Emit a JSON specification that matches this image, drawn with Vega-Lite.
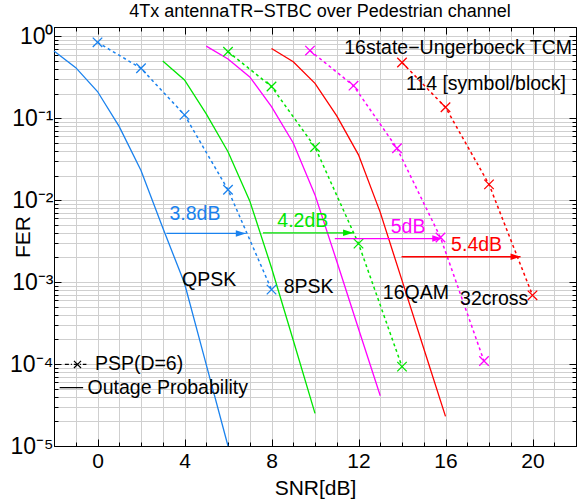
{
  "$schema": "https://vega.github.io/schema/vega-lite/v6.json",
  "width": 522,
  "height": 419,
  "autosize": "none",
  "padding": {"left": 54, "top": 27, "right": 8, "bottom": 58},
  "background": "white",
  "config": {
    "font": "Liberation Sans",
    "view": {"stroke": "black", "strokeWidth": 1},
    "axis": {"labelFont": "Liberation Sans", "titleFont": "Liberation Sans"}
  },
  "title": {"text": "4Tx antennaTR−STBC over Pedestrian channel", "fontSize": 18, "fontWeight": "normal", "font": "Liberation Sans", "color": "black", "offset": 4, "anchor": "middle", "dx": 5},
  "datasets": {
    "curves": [
      {"s": "QPSK", "k": "outage", "snr": -2, "fer": 0.664},
      {"s": "QPSK", "k": "outage", "snr": -1, "fer": 0.415},
      {"s": "QPSK", "k": "outage", "snr": 0, "fer": 0.212},
      {"s": "QPSK", "k": "outage", "snr": 1, "fer": 0.079},
      {"s": "QPSK", "k": "outage", "snr": 2, "fer": 0.023},
      {"s": "QPSK", "k": "outage", "snr": 3, "fer": 0.0046},
      {"s": "QPSK", "k": "outage", "snr": 4, "fer": 0.00097},
      {"s": "QPSK", "k": "outage", "snr": 5, "fer": 0.0000985},
      {"s": "QPSK", "k": "outage", "snr": 6, "fer": 0.00001},
      {"s": "QPSK", "k": "psp", "snr": 0, "fer": 0.845},
      {"s": "QPSK", "k": "psp", "snr": 2, "fer": 0.407},
      {"s": "QPSK", "k": "psp", "snr": 4, "fer": 0.11},
      {"s": "QPSK", "k": "psp", "snr": 6, "fer": 0.0134},
      {"s": "QPSK", "k": "psp", "snr": 8, "fer": 0.00081},
      {"s": "8PSK", "k": "outage", "snr": 3, "fer": 0.5},
      {"s": "8PSK", "k": "outage", "snr": 4, "fer": 0.294},
      {"s": "8PSK", "k": "outage", "snr": 5, "fer": 0.113},
      {"s": "8PSK", "k": "outage", "snr": 6, "fer": 0.039},
      {"s": "8PSK", "k": "outage", "snr": 7, "fer": 0.0098},
      {"s": "8PSK", "k": "outage", "snr": 8, "fer": 0.0015},
      {"s": "8PSK", "k": "outage", "snr": 9, "fer": 0.000195},
      {"s": "8PSK", "k": "outage", "snr": 10, "fer": 0.000025},
      {"s": "8PSK", "k": "psp", "snr": 6, "fer": 0.65},
      {"s": "8PSK", "k": "psp", "snr": 8, "fer": 0.244},
      {"s": "8PSK", "k": "psp", "snr": 10, "fer": 0.0445},
      {"s": "8PSK", "k": "psp", "snr": 12, "fer": 0.00295},
      {"s": "8PSK", "k": "psp", "snr": 14, "fer": 0.000093},
      {"s": "16QAM", "k": "outage", "snr": 5, "fer": 0.76},
      {"s": "16QAM", "k": "outage", "snr": 6, "fer": 0.53},
      {"s": "16QAM", "k": "outage", "snr": 7, "fer": 0.32},
      {"s": "16QAM", "k": "outage", "snr": 8, "fer": 0.139},
      {"s": "16QAM", "k": "outage", "snr": 9, "fer": 0.05},
      {"s": "16QAM", "k": "outage", "snr": 10, "fer": 0.0116},
      {"s": "16QAM", "k": "outage", "snr": 11, "fer": 0.0018},
      {"s": "16QAM", "k": "outage", "snr": 12, "fer": 0.00027},
      {"s": "16QAM", "k": "outage", "snr": 13, "fer": 0.000041},
      {"s": "16QAM", "k": "psp", "snr": 9.77, "fer": 0.67},
      {"s": "16QAM", "k": "psp", "snr": 11.77, "fer": 0.25},
      {"s": "16QAM", "k": "psp", "snr": 13.77, "fer": 0.043},
      {"s": "16QAM", "k": "psp", "snr": 15.77, "fer": 0.0035},
      {"s": "16QAM", "k": "psp", "snr": 17.77, "fer": 0.000109},
      {"s": "32cross", "k": "outage", "snr": 8, "fer": 0.71},
      {"s": "32cross", "k": "outage", "snr": 9, "fer": 0.49},
      {"s": "32cross", "k": "outage", "snr": 10, "fer": 0.267},
      {"s": "32cross", "k": "outage", "snr": 11, "fer": 0.107},
      {"s": "32cross", "k": "outage", "snr": 12, "fer": 0.0358},
      {"s": "32cross", "k": "outage", "snr": 13, "fer": 0.0071},
      {"s": "32cross", "k": "outage", "snr": 14, "fer": 0.00105},
      {"s": "32cross", "k": "outage", "snr": 15, "fer": 0.000155},
      {"s": "32cross", "k": "outage", "snr": 16, "fer": 0.000023},
      {"s": "32cross", "k": "psp", "snr": 14, "fer": 0.48},
      {"s": "32cross", "k": "psp", "snr": 16, "fer": 0.136},
      {"s": "32cross", "k": "psp", "snr": 18, "fer": 0.0156},
      {"s": "32cross", "k": "psp", "snr": 20, "fer": 0.00069}
    ],
    "arrows": [
      {"s": "QPSK", "snr": 3.17, "snr2": 6.82, "fer": 0.00393},
      {"s": "8PSK", "snr": 7.61, "snr2": 11.75, "fer": 0.0040},
      {"s": "16QAM", "snr": 10.91, "snr2": 15.85, "fer": 0.0034},
      {"s": "32cross", "snr": 13.98, "snr2": 19.45, "fer": 0.00204}
    ],
    "labels": [
      {"s": "QPSK", "t": "3.8dB", "snr": 4.48, "fer": 0.0067},
      {"s": "8PSK", "t": "4.2dB", "snr": 9.44, "fer": 0.0055},
      {"s": "16QAM", "t": "5dB", "snr": 14.28, "fer": 0.0047},
      {"s": "32cross", "t": "5.4dB", "snr": 17.43, "fer": 0.00283},
      {"s": "black", "t": "QPSK", "snr": 5.13, "fer": 0.00106},
      {"s": "black", "t": "8PSK", "snr": 9.71, "fer": 0.00088},
      {"s": "black", "t": "16QAM", "snr": 14.64, "fer": 0.00073},
      {"s": "black", "t": "32cross", "snr": 18.24, "fer": 0.00062},
      {"s": "black", "t": "16state−Ungerboeck TCM", "snr": 16.58, "fer": 0.722},
      {"s": "black", "t": "114 [symbol/block]", "snr": 17.86, "fer": 0.265},
      {"s": "black", "t": "PSP(D=6)", "snr": 1.91, "fer": 0.000099},
      {"s": "black", "t": "Outage Probability", "snr": 3.23, "fer": 0.0000515}
    ],
    "legendlines": [
      {"k": "psp", "snr": -1.5, "snr2": -0.51, "fer": 0.000099},
      {"k": "outage", "snr": -1.74, "snr2": -0.66, "fer": 0.0000515}
    ],
    "legendmark": [
      {"snr": -0.92, "fer": 0.000099}
    ]
  },
  "layer": [
    {
      "data": {"name": "legendmark"},
      "mark": {"type": "point", "opacity": 0},
      "encoding": {
        "x": {
          "field": "snr", "type": "quantitative",
          "scale": {"domain": [-2, 22], "nice": false, "zero": false},
          "axis": {
            "orient": "top",
            "values": [-2,-1,0,1,2,3,4,5,6,7,8,9,10,11,12,13,14,15,16,17,18,19,20,21,22],
            "labels": false, "grid": true, "gridColor": "#cfcfcf", "gridWidth": 1, "title": null,
            "tickSize": {"condition": {"test": "datum.value % 4 == 0", "value": -7}, "value": -4},
            "tickColor": "black", "tickWidth": 1,
            "domainColor": "black", "domainWidth": 1
          }
        },
        "y": {
          "field": "fer", "type": "quantitative",
          "scale": {"type": "log", "domain": [0.00001, 1.3], "nice": false},
          "axis": {
            "orient": "right",
            "values": [0.00001,0.00002,0.00003,0.00004,0.00005,0.00006,0.00007,0.00008,0.00009,0.0001,0.0002,0.0003,0.0004,0.0005,0.0006,0.0007,0.0008,0.0009,0.001,0.002,0.003,0.004,0.005,0.006,0.007,0.008,0.009,0.01,0.02,0.03,0.04,0.05,0.06,0.07,0.08,0.09,0.1,0.2,0.3,0.4,0.5,0.6,0.7,0.8,0.9,1],
            "labels": false, "grid": true, "gridColor": "#cfcfcf", "gridWidth": 1, "title": null,
            "tickSize": {"condition": {"test": "abs(datum.value / pow(10, round(log(datum.value) / LN10)) - 1) < 0.001", "value": -7}, "value": -4},
            "tickColor": "black", "tickWidth": 1,
            "domainColor": "black", "domainWidth": 1
          }
        }
      }
    },
    {
      "data": {"name": "curves"},
      "transform": [{"filter": "datum.k == 'outage'"}],
      "mark": {"type": "line", "strokeWidth": 1.3},
      "encoding": {
        "x": {
          "field": "snr", "type": "quantitative",
          "axis": {
            "orient": "bottom",
            "values": [-2,-1,0,1,2,3,4,5,6,7,8,9,10,11,12,13,14,15,16,17,18,19,20,21,22],
            "labelExpr": "datum.value % 4 == 0 ? datum.label : ''",
            "labelOverlap": false, "labelFlush": false,
            "grid": false,
            "tickSize": {"condition": {"test": "datum.value % 4 == 0", "value": -7}, "value": -4},
            "tickColor": "black", "tickWidth": 1,
            "domainColor": "black", "domainWidth": 1,
            "labelFontSize": 21, "labelColor": "black", "labelPadding": 11,
            "title": "SNR[dB]", "titleFontSize": 21, "titleFontWeight": "normal", "titleColor": "black", "titlePadding": 3
          }
        },
        "y": {
          "field": "fer", "type": "quantitative",
          "axis": {
            "orient": "left",
            "values": [0.00001,0.00002,0.00003,0.00004,0.00005,0.00006,0.00007,0.00008,0.00009,0.0001,0.0002,0.0003,0.0004,0.0005,0.0006,0.0007,0.0008,0.0009,0.001,0.002,0.003,0.004,0.005,0.006,0.007,0.008,0.009,0.01,0.02,0.03,0.04,0.05,0.06,0.07,0.08,0.09,0.1,0.2,0.3,0.4,0.5,0.6,0.7,0.8,0.9,1],
            "labelExpr": "abs(datum.value / pow(10, round(log(datum.value) / LN10)) - 1) < 0.001 ? ['10⁰','10⁻¹','10⁻²','10⁻³','10⁻⁴','10⁻⁵'][-round(log(datum.value) / LN10)] : ''",
            "labelOverlap": false, "labelFlush": false,
            "grid": false,
            "tickSize": {"condition": {"test": "abs(datum.value / pow(10, round(log(datum.value) / LN10)) - 1) < 0.001", "value": -7}, "value": -4},
            "tickColor": "black", "tickWidth": 1,
            "domainColor": "black", "domainWidth": 1,
            "labelFontSize": 23, "labelColor": "black", "labelPadding": 8,
            "title": "FER", "titleFontSize": 21, "titleFontWeight": "normal", "titleColor": "black", "titlePadding": -24
          }
        },
        "color": {
          "field": "s", "type": "nominal",
          "scale": {"domain": ["QPSK", "8PSK", "16QAM", "32cross", "black"], "range": ["#1a82ee", "#00e600", "#ff00ff", "#ff0000", "#000000"]},
          "legend": null
        }
      }
    },
    {
      "data": {"name": "curves"},
      "transform": [{"filter": "datum.k == 'psp'"}],
      "mark": {"type": "line", "strokeWidth": 1.5, "strokeDash": [3, 3]},
      "encoding": {
        "x": {"field": "snr", "type": "quantitative", "axis": null},
        "y": {"field": "fer", "type": "quantitative", "axis": null},
        "color": {"field": "s", "type": "nominal", "legend": null}
      }
    },
    {
      "data": {"name": "curves"},
      "transform": [{"filter": "datum.k == 'psp'"}],
      "mark": {"type": "point", "shape": "M-1,-1L1,1M-1,1L1,-1", "size": 90, "filled": false, "strokeWidth": 1.3, "opacity": 1},
      "encoding": {
        "x": {"field": "snr", "type": "quantitative", "axis": null},
        "y": {"field": "fer", "type": "quantitative", "axis": null},
        "color": {"field": "s", "type": "nominal", "legend": null}
      }
    },
    {
      "data": {"name": "arrows"},
      "mark": {"type": "rule", "strokeWidth": 1.3},
      "encoding": {
        "x": {"field": "snr", "type": "quantitative", "axis": null},
        "x2": {"field": "snr2"},
        "y": {"field": "fer", "type": "quantitative", "axis": null},
        "color": {"field": "s", "type": "nominal", "legend": null}
      }
    },
    {
      "data": {"name": "arrows"},
      "mark": {"type": "point", "shape": "M0,0L-2,-0.65L-2,0.65Z", "size": 100, "filled": true, "opacity": 1, "strokeWidth": 0},
      "encoding": {
        "x": {"field": "snr2", "type": "quantitative", "axis": null},
        "y": {"field": "fer", "type": "quantitative", "axis": null},
        "color": {"field": "s", "type": "nominal", "legend": null}
      }
    },
    {
      "data": {"name": "labels"},
      "mark": {"type": "text", "fontSize": 19.5, "font": "Liberation Sans", "align": "center", "baseline": "middle"},
      "encoding": {
        "x": {"field": "snr", "type": "quantitative", "axis": null},
        "y": {"field": "fer", "type": "quantitative", "axis": null},
        "text": {"field": "t"},
        "color": {"field": "s", "type": "nominal", "legend": null}
      }
    },
    {
      "data": {"name": "legendlines"},
      "mark": {"type": "rule", "strokeWidth": 1.2, "color": "black"},
      "encoding": {
        "x": {"field": "snr", "type": "quantitative", "axis": null},
        "x2": {"field": "snr2"},
        "y": {"field": "fer", "type": "quantitative", "axis": null},
        "strokeDash": {"field": "k", "type": "nominal", "scale": {"domain": ["psp", "outage"], "range": [[4, 2, 1, 2], [1, 0]]}, "legend": null}
      }
    },
    {
      "data": {"name": "legendmark"},
      "mark": {"type": "point", "shape": "M-1,-1L1,1M-1,1L1,-1", "size": 50, "filled": false, "strokeWidth": 1.2, "opacity": 1, "color": "black"},
      "encoding": {
        "x": {"field": "snr", "type": "quantitative", "axis": null},
        "y": {"field": "fer", "type": "quantitative", "axis": null}
      }
    }
  ],
  "resolve": {"axis": {"x": "independent", "y": "independent"}}
}
